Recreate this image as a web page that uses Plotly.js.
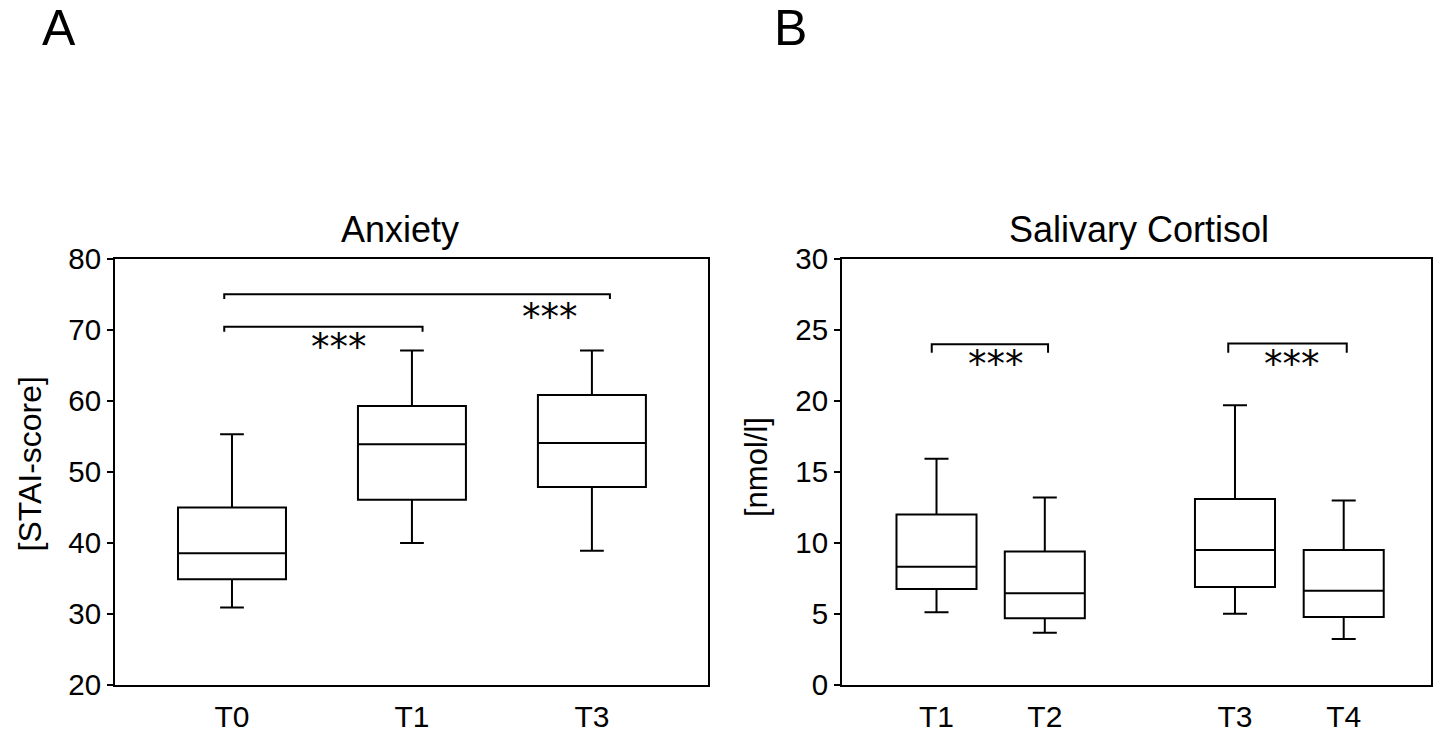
<!DOCTYPE html>
<html>
<head>
<meta charset="utf-8">
<script src="https://cdn.plot.ly/plotly-3.0.1.min.js"></script>
<style>html,body{margin:0;padding:0;background:#fff;}#chart{width:1434px;height:734px;}</style>
</head>
<body>
<div id="chart"></div>
<script>
// ---- Data ----
const catsA = ['T0', 'T1', 'T3'];
const lowA  = [30.9, 40.0, 38.9];
const q1A   = [34.9, 46.1, 47.9];
const medA  = [38.55, 53.9, 54.1];
const q3A   = [45.0, 59.3, 60.85];
const highA = [55.3, 67.1, 67.1];

const catsB = ['T1', 'T2', 'T3', 'T4'];
const lowB  = [5.12, 3.68, 5.02, 3.24];
const q1B   = [6.76, 4.70, 6.90, 4.79];
const medB  = [8.33, 6.46, 9.5, 6.64];
const q3B   = [12.0, 9.4, 13.1, 9.5];
const highB = [15.94, 13.2, 19.7, 13.0];

const titleA = 'Anxiety';
const titleB = 'Salivary Cortisol';
const yLabelA = '[STAI-score]';
const yLabelB = '[nmol/l]';
const sigLabel = '***';

// ---- Layout constants ----
const posA = [0, 1, 2];
const posB = [0, 1, 2.756, 3.76];
const FONT = '"Liberation Sans", Arial, sans-serif';
const STARFONT = {family: '"DejaVu Sans", sans-serif', size: 37, color: '#000'};

const boxStyle = {line: {color: '#000', width: 2}, fillcolor: 'rgba(255,255,255,0)', boxpoints: false, hoverinfo: 'skip', showlegend: false};

const traceA = Object.assign({
  type: 'box', x: posA, q1: q1A, median: medA, q3: q3A, lowerfence: lowA, upperfence: highA,
  width: 0.6, whiskerwidth: 0.22, xaxis: 'x', yaxis: 'y'
}, boxStyle);
const traceB = Object.assign({
  type: 'box', x: posB, q1: q1B, median: medB, q3: q3B, lowerfence: lowB, upperfence: highB,
  width: 0.739, whiskerwidth: 0.3, xaxis: 'x2', yaxis: 'y2'
}, boxStyle);

function bracket(xr, yr, x0, x1, yTop, yLeg) {
  return {type: 'path', xref: xr, yref: yr,
    path: `M ${x0},${yLeg} L ${x0},${yTop} L ${x1},${yTop} L ${x1},${yLeg}`,
    line: {color: '#000', width: 2}};
}

const yAxisCommon = {showline: true, linecolor: '#000', linewidth: 2, mirror: true, ticks: 'outside', ticklen: 6, tickwidth: 2, tickcolor: '#000',
  showgrid: false, zeroline: false, tickfont: {family: FONT, size: 29.5, color: '#000'}, fixedrange: true};
const xAxisCommon = {showline: true, linecolor: '#000', linewidth: 2, mirror: true, ticks: 'outside', ticklen: 4, tickcolor: 'rgba(0,0,0,0)',
  showgrid: false, zeroline: false, tickfont: {family: FONT, size: 30, color: '#000'}, fixedrange: true};

const layout = {
  width: 1434, height: 734,
  margin: {l: 115, r: 3, t: 259, b: 49, pad: 0},
  paper_bgcolor: '#fff', plot_bgcolor: '#fff',
  font: {family: FONT, color: '#000'},
  showlegend: false,
  xaxis: Object.assign({}, xAxisCommon, {domain: [0, 0.4506], range: [-0.65, 2.645], tickvals: posA, ticktext: catsA, anchor: 'y'}),
  yaxis: Object.assign({}, yAxisCommon, {range: [20, 80], dtick: 10, tick0: 20, anchor: 'x'}),
  xaxis2: Object.assign({}, xAxisCommon, {domain: [0.5524, 1], range: [-0.873, 4.566], tickvals: posB, ticktext: catsB, anchor: 'y2'}),
  yaxis2: Object.assign({}, yAxisCommon, {range: [0, 30], dtick: 5, tick0: 0, anchor: 'x2'}),
  shapes: [
    bracket('x', 'y', -0.043, 1.059, 70.46, 69.76),
    bracket('x', 'y', -0.043, 2.10, 75.03, 74.35),
    bracket('x2', 'y2', -0.044, 1.03, 24.0, 23.4),
    bracket('x2', 'y2', 2.694, 3.788, 24.05, 23.4)
  ],
  annotations: [
    {text: 'A', xref: 'paper', yref: 'paper', x: -0.0422, y: 1.542, xanchor: 'center', yanchor: 'middle', showarrow: false, font: {family: FONT, size: 50, color: '#000'}},
    {text: 'B', xref: 'paper', yref: 'paper', x: 0.5133, y: 1.542, xanchor: 'center', yanchor: 'middle', showarrow: false, font: {family: FONT, size: 50, color: '#000'}},
    {text: titleA, xref: 'paper', yref: 'paper', x: 0.2166, y: 1.0704, xanchor: 'center', yanchor: 'middle', showarrow: false, font: {family: FONT, size: 36, color: '#000'}},
    {text: titleB, xref: 'paper', yref: 'paper', x: 0.778, y: 1.0704, xanchor: 'center', yanchor: 'middle', showarrow: false, font: {family: FONT, size: 36, color: '#000'}},
    {text: yLabelA, xref: 'paper', yref: 'paper', x: (29 - 115) / 1316, y: (685 - 464.5) / 426, xanchor: 'center', yanchor: 'middle', textangle: -90, showarrow: false, font: {family: FONT, size: 32, color: '#000'}},
    {text: yLabelB, xref: 'paper', yref: 'paper', x: (756 - 115) / 1316, y: (685 - 467) / 426, xanchor: 'center', yanchor: 'middle', textangle: -90, showarrow: false, font: {family: FONT, size: 31, color: '#000'}},
    {text: sigLabel, xref: 'x', yref: 'y', x: 0.594, y: 67.6, xanchor: 'center', yanchor: 'middle', showarrow: false, font: STARFONT},
    {text: sigLabel, xref: 'x', yref: 'y', x: 1.767, y: 71.75, xanchor: 'center', yanchor: 'middle', showarrow: false, font: STARFONT},
    {text: sigLabel, xref: 'x2', yref: 'y2', x: 0.547, y: 22.55, xanchor: 'center', yanchor: 'middle', showarrow: false, font: STARFONT},
    {text: sigLabel, xref: 'x2', yref: 'y2', x: 3.283, y: 22.55, xanchor: 'center', yanchor: 'middle', showarrow: false, font: STARFONT}
  ]
};

Plotly.newPlot('chart', [traceA, traceB], layout, {staticPlot: true, displayModeBar: false});
</script>
</body>
</html>
